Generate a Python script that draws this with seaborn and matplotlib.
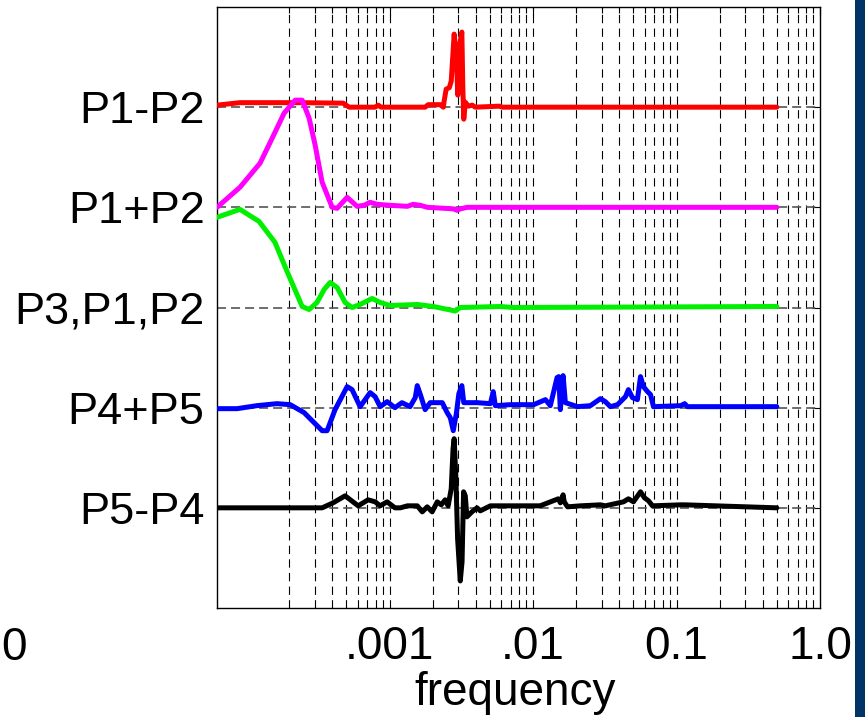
import numpy as np
import pandas as pd
import matplotlib
matplotlib.use("Agg")
import matplotlib.pyplot as plt
from matplotlib.patches import Rectangle
from matplotlib.ticker import FixedLocator, NullFormatter
import seaborn as sns

# ---------------- data ----------------
series_names = ["P1-P2", "P1+P2", "P3,P1,P2", "P4+P5", "P5-P4"]
series_positions = [5, 4, 3, 2, 1]
series_colors = ["#ff0000", "#ff00ff", "#00f000", "#0000ff", "#000000"]

red_freq = [6.27e-5, 9.06e-5, 2.38e-4, 4.75e-4, 5.22e-4, 7.93e-4, 8.33e-4, 8.74e-4, 1.77e-3, 1.86e-3,
            2.25e-3, 2.37e-3, 2.40e-3, 2.48e-3, 2.61e-3, 2.69e-3, 2.82e-3, 2.92e-3, 2.99e-3, 3.06e-3,
            3.19e-3, 3.24e-3, 3.29e-3, 3.37e-3, 3.54e-3, 3.77e-3, 3.96e-3, 5.82e-3, 6.10e-3, 0.5]
red_amp = [0.02, 0.045, 0.045, 0.04, 0.0, 0.0, 0.02, 0.0, 0.0, 0.025,
           0.025, 0.0, 0.06, 0.18, 0.195, 0.26, 0.73, 0.5, 0.12, 0.6,
           0.75, 0.2, -0.12, 0.05, 0.01, 0.02, 0.0, 0.01, 0.0, 0.0]

magenta_freq = [6.27e-5, 9.06e-5, 1.25e-4, 1.52e-4, 1.84e-4, 2.20e-4, 2.46e-4, 2.75e-4, 3.03e-4, 3.39e-4,
                3.98e-4, 4.31e-4, 5.06e-4, 5.94e-4, 6.65e-4, 7.32e-4, 8.19e-4, 1.01e-3, 1.33e-3, 1.46e-3,
                1.64e-3, 1.83e-3, 2.78e-3, 2.96e-3, 3.11e-3, 3.48e-3, 0.5]
magenta_amp = [0.0, 0.20, 0.44, 0.69, 0.94, 1.07, 1.07, 0.89, 0.62, 0.25,
               0.0, -0.01, 0.10, 0.01, 0.02, 0.05, 0.03, 0.02, 0.01, 0.03,
               0.02, 0.0, -0.015, -0.03, -0.015, 0.0, 0.0]

green_freq = [6.27e-5, 9.06e-5, 1.23e-4, 1.59e-4, 1.93e-4, 2.46e-4, 2.75e-4, 3.12e-4, 3.50e-4, 3.85e-4,
              4.31e-4, 4.90e-4, 5.48e-4, 6.23e-4, 7.56e-4, 8.60e-4, 1.01e-3, 1.56e-3, 2.02e-3, 2.87e-3,
              3.11e-3, 5.91e-3, 7.29e-3, 0.5]
green_amp = [0.90, 0.98, 0.86, 0.65, 0.36, 0.01, -0.02, 0.05, 0.18, 0.25,
             0.20, 0.05, 0.0, 0.03, 0.09, 0.05, 0.02, 0.03, 0.01, -0.035,
             0.0, 0.01, 0.0, 0.01]

blue_freq = [6.27e-5, 8.64e-5, 1.19e-4, 1.64e-4, 2.03e-4, 2.54e-4, 2.98e-4, 3.39e-4, 3.67e-4, 4.17e-4,
             5.06e-4, 5.48e-4, 6.23e-4, 7.32e-4, 7.93e-4, 8.60e-4, 9.62e-4, 1.09e-3, 1.22e-3, 1.39e-3,
             1.51e-3, 1.56e-3, 1.64e-3, 1.77e-3, 1.92e-3, 2.33e-3, 2.52e-3, 2.65e-3, 2.78e-3, 2.92e-3,
             3.04e-3, 3.19e-3, 3.29e-3, 3.65e-3, 4.09e-3, 5.04e-3, 5.28e-3, 5.46e-3, 6.94e-3, 1.01e-2,
             1.22e-2, 1.32e-2, 1.47e-2, 1.51e-2, 1.55e-2, 1.62e-2, 1.68e-2, 2.04e-2, 2.51e-2, 2.95e-2,
             3.19e-2, 3.46e-2, 3.88e-2, 4.41e-2, 4.62e-2, 4.93e-2, 5.34e-2, 5.61e-2, 5.88e-2, 6.28e-2,
             6.59e-2, 6.91e-2, 0.107, 0.114, 0.119, 0.5]
blue_amp = [-0.01, -0.01, 0.02, 0.04, 0.03, -0.05, -0.15, -0.23, -0.23, -0.02,
            0.21, 0.18, 0.01, 0.15, 0.11, 0.01, 0.06, 0.0, 0.05, 0.01,
            0.10, 0.22, 0.13, -0.02, 0.05, 0.05, -0.05, -0.10, -0.23, -0.06,
            0.14, 0.22, 0.05, 0.05, 0.05, 0.04, 0.16, 0.02, 0.03, 0.03,
            0.08, 0.02, 0.30, 0.31, -0.02, 0.32, 0.05, 0.01, 0.02, 0.09,
            0.06, 0.01, 0.03, 0.11, 0.18, 0.10, 0.08, 0.31, 0.21, 0.16,
            0.13, 0.01, 0.02, 0.04, 0.01, 0.01]

black_freq = [6.27e-5, 3.39e-4, 4.04e-4, 4.90e-4, 6.04e-4, 7.09e-4, 7.93e-4, 8.60e-4, 9.62e-4, 1.09e-3,
              1.19e-3, 1.33e-3, 1.56e-3, 1.69e-3, 1.83e-3, 1.98e-3, 2.15e-3, 2.29e-3, 2.44e-3, 2.56e-3,
              2.69e-3, 2.77e-3, 2.82e-3, 2.90e-3, 2.98e-3, 3.11e-3, 3.20e-3, 3.28e-3, 3.37e-3, 3.46e-3,
              3.75e-3, 4.07e-3, 4.29e-3, 5.04e-3, 5.91e-3, 7.90e-3, 1.12e-2, 1.50e-2, 1.55e-2, 1.62e-2,
              1.65e-2, 1.74e-2, 2.14e-2, 2.95e-2, 3.19e-2, 4.27e-2, 4.62e-2, 5.01e-2, 5.61e-2, 5.98e-2,
              6.38e-2, 6.80e-2, 0.107, 0.114, 0.5]
black_amp = [0.0, 0.0, 0.05, 0.12, 0.02, 0.08, 0.06, 0.02, 0.06, 0.0,
             0.0, 0.02, 0.02, -0.04, 0.01, -0.04, 0.06, 0.03, 0.08, 0.02,
             0.19, 0.59, 0.69, 0.29, -0.31, -0.73, -0.54, 0.16, 0.12, -0.09,
             -0.04, 0.0, -0.03, 0.02, 0.02, 0.02, 0.02, 0.09, 0.05, 0.13,
             0.06, 0.01, 0.02, 0.03, 0.02, 0.06, 0.09, 0.06, 0.16, 0.10,
             0.07, 0.02, 0.03, 0.03, 0.0]

x_tick_values = [1e-3, 1e-2, 1e-1, 1.0]
x_tick_labels = [".001", ".01", "0.1", "1.0"]
x_minor_values = [k * 10.0 ** e for e in (-4, -3, -2, -1) for k in range(2, 10)]

# ---------------- build long table ----------------
all_freq = [red_freq, magenta_freq, green_freq, blue_freq, black_freq]
all_amp = [red_amp, magenta_amp, green_amp, blue_amp, black_amp]
frames = []
for name, pos, fr, am in zip(series_names, series_positions, all_freq, all_amp):
    frames.append(pd.DataFrame({"frequency": fr,
                                "value": np.asarray(am) + pos,
                                "series": name}))
df = pd.concat(frames, ignore_index=True)

# ---------------- plot ----------------
sns.set_style("white", {"text.color": "black", "xtick.color": "black",
                        "ytick.color": "black", "axes.labelcolor": "black",
                        "axes.edgecolor": "black"})
plt.rcParams["font.family"] = ["Liberation Sans", "DejaVu Sans"]
plt.rcParams["lines.scale_dashes"] = False

fig = plt.figure(figsize=(8.65, 7.17), dpi=100)
ax = fig.add_axes([217 / 865, 109 / 717, 603 / 865, 601 / 717])
ax.set_xscale("log")

sns.lineplot(data=df, x="frequency", y="value", hue="series",
             hue_order=series_names, palette=dict(zip(series_names, series_colors)),
             estimator=None, units="series", sort=False, legend=False,
             linewidth=3.6, ax=ax, zorder=3,
             solid_joinstyle="round", solid_capstyle="round")

ax.set_xlim(6.27e-5, 1.0)
ax.set_ylim(0, 6)

# gridlines
for xv in x_minor_values + x_tick_values[:-1]:
    ax.axvline(xv, color="black", lw=0.8, ls=(0, (6.0, 3.8)), zorder=1)
for yv in series_positions:
    ax.axhline(yv, color="#555555", lw=1.2, ls=(0, (6.5, 3.6)), zorder=1)

# ticks
ax.xaxis.set_major_locator(FixedLocator(x_tick_values))
ax.xaxis.set_minor_locator(FixedLocator(x_minor_values))
ax.xaxis.set_minor_formatter(NullFormatter())
ax.set_xticklabels(x_tick_labels, fontsize=33, color="black")
ax.set_yticks(series_positions)
ax.set_yticklabels(series_names, fontsize=32.5, color="black")
ax.tick_params(axis="both", which="both", direction="in", top=True, right=True,
               color="black", width=0.8, labelcolor="black")
ax.tick_params(axis="x", which="major", length=6, pad=12.5)
ax.tick_params(axis="x", which="minor", length=4)
ax.tick_params(axis="y", which="major", length=6, pad=9)

for sp in ax.spines.values():
    sp.set_color("black")
    sp.set_linewidth(1.0)
    sp.set_visible(True)

ax.set_xlabel("frequency", fontsize=33, color="black")
ax.xaxis.set_label_coords(0.494, -0.105)
ax.set_ylabel("")

fig.text(1 / 865, 1 - 626 / 717, "0", fontsize=33, ha="left", va="top", color="black")

fig.patches.append(Rectangle((855 / 865, 0), 10 / 865, 1, transform=fig.transFigure,
                             facecolor="#003366", edgecolor="none", zorder=10))

fig.savefig("out.png", dpi=100)
